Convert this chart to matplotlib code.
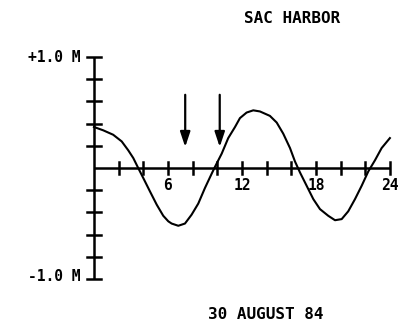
import matplotlib
matplotlib.use("Agg")
import matplotlib.pyplot as plt

# Tide curve, Sag Harbor, 30 August 1984 (hours vs. metres)
hours = [0.0, 0.75, 1.56, 2.25, 2.78, 3.19, 3.59, 4.0, 4.54, 5.09, 5.62,
         6.03, 6.30, 6.84, 7.38, 7.92, 8.46, 9.0, 9.55, 9.81, 10.36, 10.89,
         11.44, 11.84, 12.38, 12.92, 13.46, 14.27, 14.82, 15.35, 15.90,
         16.30, 16.71, 17.25, 17.79, 18.33, 19.0, 19.55, 20.09, 20.62,
         21.17, 21.71, 22.25, 22.79, 23.33, 24.0]
level = [0.37, 0.34, 0.30, 0.24, 0.16, 0.09, 0.00, -0.09, -0.21, -0.33,
         -0.43, -0.48, -0.50, -0.52, -0.50, -0.42, -0.32, -0.18, -0.05, 0.01,
         0.13, 0.27, 0.37, 0.45, 0.50, 0.52, 0.51, 0.47, 0.41, 0.31, 0.18,
         0.06, -0.04, -0.16, -0.28, -0.37, -0.43, -0.47, -0.46, -0.39,
         -0.28, -0.16, -0.03, 0.07, 0.18, 0.27]

arrow_hours = [7.4, 10.2]
arrow_top, arrow_tip = 0.66, 0.19

x_ticks = list(range(0, 25, 2))
x_labels = {6: "6", 12: "12", 18: "18", 24: "24"}
y_ticks = [-1.0, -0.8, -0.6, -0.4, -0.2, 0.2, 0.4, 0.6, 0.8, 1.0]
y_top_label, y_bottom_label = "+1.0 M", "-1.0 M"
title = "SAC HARBOR"
date_label = "30 AUGUST 84"

font = dict(family="DejaVu Sans Mono", weight="bold", color="black")

fig = plt.figure(figsize=(4.0, 3.24), dpi=100)
ax = fig.add_axes([0, 0, 1, 1])
ax.set_xlim(-7.62, 24.82)
ax.set_ylim(-1.405, 1.514)
ax.axis("off")

lw_axis = 1.8
# vertical axis with cross ticks
ax.plot([0, 0], [-1.0, 1.0], color="black", lw=lw_axis, solid_capstyle="butt")
dx = 7 / 12.33
for v in y_ticks:
    ax.plot([-dx, dx], [v, v], color="black", lw=lw_axis)
# horizontal axis with cross ticks
ax.plot([0, 24], [0, 0], color="black", lw=lw_axis, solid_capstyle="butt")
dy = 6 / 111
for t in x_ticks[1:]:
    ax.plot([t, t], [-dy, dy], color="black", lw=lw_axis)
for t, lab in x_labels.items():
    ax.text(t, -0.16, lab, ha="center", va="center", fontsize=10.5, **font)

ax.text(-1.1, 1.0, y_top_label, ha="right", va="center", fontsize=10.5, **font)
ax.text(-1.1, -0.98, y_bottom_label, ha="right", va="center", fontsize=10.5, **font)

ax.plot(hours, level, color="black", lw=1.5, solid_joinstyle="round")

for t in arrow_hours:
    ax.annotate("", xy=(t, arrow_tip), xytext=(t, arrow_top),
                arrowprops=dict(arrowstyle="-|>,head_length=0.9,head_width=0.3",
                                color="black", lw=1.6, shrinkA=0, shrinkB=0))

ax.text(16.05, 1.35, title, ha="center", va="center", fontsize=11.5, **font)
ax.text(13.9, -1.315, date_label, ha="center", va="center", fontsize=11.5, **font)

fig.savefig("out.png", dpi=100)
